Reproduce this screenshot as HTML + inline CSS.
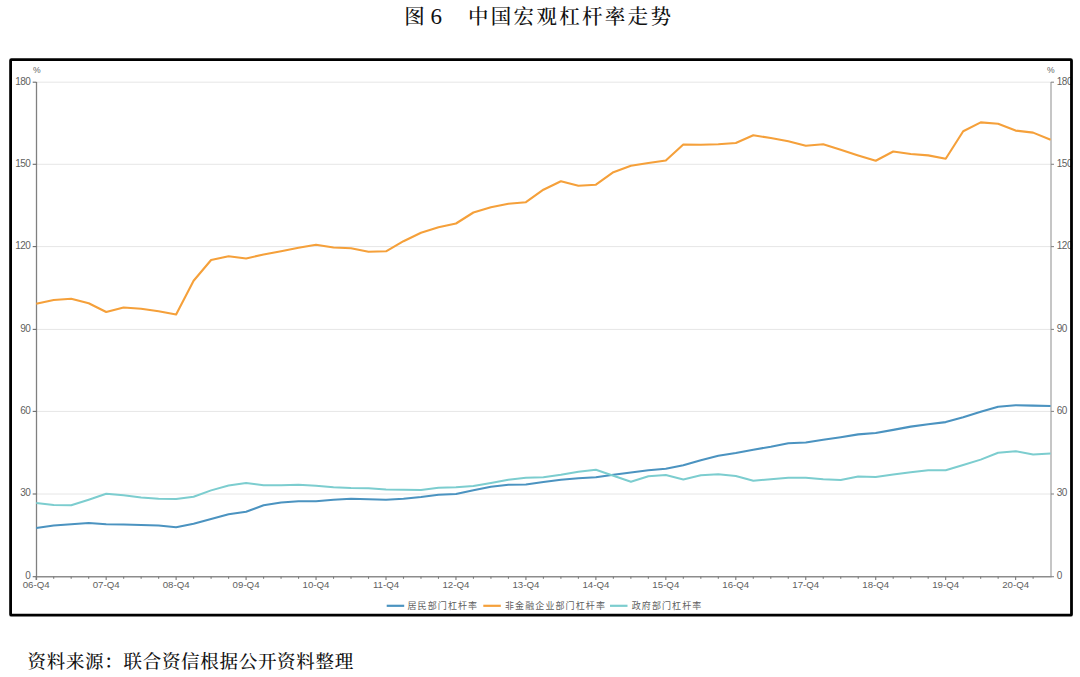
<!DOCTYPE html>
<html><head><meta charset="utf-8"><title>图6 中国宏观杠杆率走势</title>
<style>
html,body{margin:0;padding:0;background:#fff;}
body{width:1080px;height:677px;overflow:hidden;position:relative;}
svg{position:absolute;left:0;top:0;display:block;}
.ax{font-family:"Liberation Sans","Noto Sans CJK SC",sans-serif;font-size:10px;fill:#5f5f5f;}
.lg{font-family:"Liberation Sans","Noto Sans CJK SC",sans-serif;font-size:9px;fill:#5f5f5f;letter-spacing:1.1px;}
.ttl{font-family:"Liberation Serif","Noto Serif CJK SC",serif;font-size:20.5px;fill:#111;font-weight:500;}
.src{font-family:"Liberation Serif","Noto Serif CJK SC",serif;font-size:18.5px;fill:#111;font-weight:500;}
</style></head><body>
<svg width="1080" height="677" viewBox="0 0 1080 677">
<rect x="0" y="0" width="1080" height="677" fill="#fff"/>
<text class="ttl" x="404.2" y="24">图</text><text class="ttl" x="430.6" y="24" style="font-size:23px">6</text>
<text class="ttl" x="468.0" y="24" letter-spacing="2.3">中国宏观杠杆率走势</text>
<line x1="37" y1="82.20" x2="1051" y2="82.20" stroke="#e6e6e6" stroke-width="1"/><line x1="37" y1="164.30" x2="1051" y2="164.30" stroke="#e6e6e6" stroke-width="1"/><line x1="37" y1="246.60" x2="1051" y2="246.60" stroke="#e6e6e6" stroke-width="1"/><line x1="37" y1="329.40" x2="1051" y2="329.40" stroke="#e6e6e6" stroke-width="1"/><line x1="37" y1="411.40" x2="1051" y2="411.40" stroke="#e6e6e6" stroke-width="1"/><line x1="37" y1="494.00" x2="1051" y2="494.00" stroke="#e6e6e6" stroke-width="1"/>
<line x1="36.5" y1="82" x2="36.5" y2="580" stroke="#808080" stroke-width="1.3"/>
<line x1="1051" y1="82" x2="1051" y2="577" stroke="#a0a0a0" stroke-width="1.2"/>
<line x1="36" y1="576.7" x2="1051.5" y2="576.7" stroke="#8c8c8c" stroke-width="1.6"/>
<line x1="36.20" y1="576.7" x2="36.20" y2="580" stroke="#7a7a7a" stroke-width="1.1"/><line x1="53.69" y1="576.7" x2="53.69" y2="578.8" stroke="#7a7a7a" stroke-width="1.1"/><line x1="71.18" y1="576.7" x2="71.18" y2="578.8" stroke="#7a7a7a" stroke-width="1.1"/><line x1="88.67" y1="576.7" x2="88.67" y2="578.8" stroke="#7a7a7a" stroke-width="1.1"/><line x1="106.16" y1="576.7" x2="106.16" y2="580" stroke="#7a7a7a" stroke-width="1.1"/><line x1="123.65" y1="576.7" x2="123.65" y2="578.8" stroke="#7a7a7a" stroke-width="1.1"/><line x1="141.14" y1="576.7" x2="141.14" y2="578.8" stroke="#7a7a7a" stroke-width="1.1"/><line x1="158.63" y1="576.7" x2="158.63" y2="578.8" stroke="#7a7a7a" stroke-width="1.1"/><line x1="176.12" y1="576.7" x2="176.12" y2="580" stroke="#7a7a7a" stroke-width="1.1"/><line x1="193.61" y1="576.7" x2="193.61" y2="578.8" stroke="#7a7a7a" stroke-width="1.1"/><line x1="211.10" y1="576.7" x2="211.10" y2="578.8" stroke="#7a7a7a" stroke-width="1.1"/><line x1="228.59" y1="576.7" x2="228.59" y2="578.8" stroke="#7a7a7a" stroke-width="1.1"/><line x1="246.08" y1="576.7" x2="246.08" y2="580" stroke="#7a7a7a" stroke-width="1.1"/><line x1="263.57" y1="576.7" x2="263.57" y2="578.8" stroke="#7a7a7a" stroke-width="1.1"/><line x1="281.06" y1="576.7" x2="281.06" y2="578.8" stroke="#7a7a7a" stroke-width="1.1"/><line x1="298.55" y1="576.7" x2="298.55" y2="578.8" stroke="#7a7a7a" stroke-width="1.1"/><line x1="316.04" y1="576.7" x2="316.04" y2="580" stroke="#7a7a7a" stroke-width="1.1"/><line x1="333.53" y1="576.7" x2="333.53" y2="578.8" stroke="#7a7a7a" stroke-width="1.1"/><line x1="351.02" y1="576.7" x2="351.02" y2="578.8" stroke="#7a7a7a" stroke-width="1.1"/><line x1="368.51" y1="576.7" x2="368.51" y2="578.8" stroke="#7a7a7a" stroke-width="1.1"/><line x1="386.00" y1="576.7" x2="386.00" y2="580" stroke="#7a7a7a" stroke-width="1.1"/><line x1="403.49" y1="576.7" x2="403.49" y2="578.8" stroke="#7a7a7a" stroke-width="1.1"/><line x1="420.98" y1="576.7" x2="420.98" y2="578.8" stroke="#7a7a7a" stroke-width="1.1"/><line x1="438.47" y1="576.7" x2="438.47" y2="578.8" stroke="#7a7a7a" stroke-width="1.1"/><line x1="455.96" y1="576.7" x2="455.96" y2="580" stroke="#7a7a7a" stroke-width="1.1"/><line x1="473.45" y1="576.7" x2="473.45" y2="578.8" stroke="#7a7a7a" stroke-width="1.1"/><line x1="490.94" y1="576.7" x2="490.94" y2="578.8" stroke="#7a7a7a" stroke-width="1.1"/><line x1="508.43" y1="576.7" x2="508.43" y2="578.8" stroke="#7a7a7a" stroke-width="1.1"/><line x1="525.92" y1="576.7" x2="525.92" y2="580" stroke="#7a7a7a" stroke-width="1.1"/><line x1="543.41" y1="576.7" x2="543.41" y2="578.8" stroke="#7a7a7a" stroke-width="1.1"/><line x1="560.90" y1="576.7" x2="560.90" y2="578.8" stroke="#7a7a7a" stroke-width="1.1"/><line x1="578.39" y1="576.7" x2="578.39" y2="578.8" stroke="#7a7a7a" stroke-width="1.1"/><line x1="595.88" y1="576.7" x2="595.88" y2="580" stroke="#7a7a7a" stroke-width="1.1"/><line x1="613.37" y1="576.7" x2="613.37" y2="578.8" stroke="#7a7a7a" stroke-width="1.1"/><line x1="630.86" y1="576.7" x2="630.86" y2="578.8" stroke="#7a7a7a" stroke-width="1.1"/><line x1="648.35" y1="576.7" x2="648.35" y2="578.8" stroke="#7a7a7a" stroke-width="1.1"/><line x1="665.84" y1="576.7" x2="665.84" y2="580" stroke="#7a7a7a" stroke-width="1.1"/><line x1="683.33" y1="576.7" x2="683.33" y2="578.8" stroke="#7a7a7a" stroke-width="1.1"/><line x1="700.82" y1="576.7" x2="700.82" y2="578.8" stroke="#7a7a7a" stroke-width="1.1"/><line x1="718.31" y1="576.7" x2="718.31" y2="578.8" stroke="#7a7a7a" stroke-width="1.1"/><line x1="735.80" y1="576.7" x2="735.80" y2="580" stroke="#7a7a7a" stroke-width="1.1"/><line x1="753.29" y1="576.7" x2="753.29" y2="578.8" stroke="#7a7a7a" stroke-width="1.1"/><line x1="770.78" y1="576.7" x2="770.78" y2="578.8" stroke="#7a7a7a" stroke-width="1.1"/><line x1="788.27" y1="576.7" x2="788.27" y2="578.8" stroke="#7a7a7a" stroke-width="1.1"/><line x1="805.76" y1="576.7" x2="805.76" y2="580" stroke="#7a7a7a" stroke-width="1.1"/><line x1="823.25" y1="576.7" x2="823.25" y2="578.8" stroke="#7a7a7a" stroke-width="1.1"/><line x1="840.74" y1="576.7" x2="840.74" y2="578.8" stroke="#7a7a7a" stroke-width="1.1"/><line x1="858.23" y1="576.7" x2="858.23" y2="578.8" stroke="#7a7a7a" stroke-width="1.1"/><line x1="875.72" y1="576.7" x2="875.72" y2="580" stroke="#7a7a7a" stroke-width="1.1"/><line x1="893.21" y1="576.7" x2="893.21" y2="578.8" stroke="#7a7a7a" stroke-width="1.1"/><line x1="910.70" y1="576.7" x2="910.70" y2="578.8" stroke="#7a7a7a" stroke-width="1.1"/><line x1="928.19" y1="576.7" x2="928.19" y2="578.8" stroke="#7a7a7a" stroke-width="1.1"/><line x1="945.68" y1="576.7" x2="945.68" y2="580" stroke="#7a7a7a" stroke-width="1.1"/><line x1="963.17" y1="576.7" x2="963.17" y2="578.8" stroke="#7a7a7a" stroke-width="1.1"/><line x1="980.66" y1="576.7" x2="980.66" y2="578.8" stroke="#7a7a7a" stroke-width="1.1"/><line x1="998.15" y1="576.7" x2="998.15" y2="578.8" stroke="#7a7a7a" stroke-width="1.1"/><line x1="1015.64" y1="576.7" x2="1015.64" y2="580" stroke="#7a7a7a" stroke-width="1.1"/><line x1="1033.13" y1="576.7" x2="1033.13" y2="578.8" stroke="#7a7a7a" stroke-width="1.1"/>
<g class="ax">
<text x="33" y="72.8" style="font-size:8.6px">%</text>
<text x="1047" y="72.8" style="font-size:8.6px">%</text>
<text x="30.4" y="84.50" text-anchor="end" letter-spacing="-0.5">180</text><text x="1056.8" y="84.50" letter-spacing="-0.5">180</text><line x1="32.7" y1="82.20" x2="36.5" y2="82.20" stroke="#6a6a6a" stroke-width="1.1"/><line x1="1051" y1="82.20" x2="1054" y2="82.20" stroke="#8a8a8a" stroke-width="1.1"/><text x="30.4" y="166.60" text-anchor="end" letter-spacing="-0.5">150</text><text x="1056.8" y="166.60" letter-spacing="-0.5">150</text><line x1="32.7" y1="164.30" x2="36.5" y2="164.30" stroke="#6a6a6a" stroke-width="1.1"/><line x1="1051" y1="164.30" x2="1054" y2="164.30" stroke="#8a8a8a" stroke-width="1.1"/><text x="30.4" y="248.90" text-anchor="end" letter-spacing="-0.5">120</text><text x="1056.8" y="248.90" letter-spacing="-0.5">120</text><line x1="32.7" y1="246.60" x2="36.5" y2="246.60" stroke="#6a6a6a" stroke-width="1.1"/><line x1="1051" y1="246.60" x2="1054" y2="246.60" stroke="#8a8a8a" stroke-width="1.1"/><text x="30.4" y="331.70" text-anchor="end" letter-spacing="-0.5">90</text><text x="1056.8" y="331.70" letter-spacing="-0.5">90</text><line x1="32.7" y1="329.40" x2="36.5" y2="329.40" stroke="#6a6a6a" stroke-width="1.1"/><line x1="1051" y1="329.40" x2="1054" y2="329.40" stroke="#8a8a8a" stroke-width="1.1"/><text x="30.4" y="413.70" text-anchor="end" letter-spacing="-0.5">60</text><text x="1056.8" y="413.70" letter-spacing="-0.5">60</text><line x1="32.7" y1="411.40" x2="36.5" y2="411.40" stroke="#6a6a6a" stroke-width="1.1"/><line x1="1051" y1="411.40" x2="1054" y2="411.40" stroke="#8a8a8a" stroke-width="1.1"/><text x="30.4" y="496.30" text-anchor="end" letter-spacing="-0.5">30</text><text x="1056.8" y="496.30" letter-spacing="-0.5">30</text><line x1="32.7" y1="494.00" x2="36.5" y2="494.00" stroke="#6a6a6a" stroke-width="1.1"/><line x1="1051" y1="494.00" x2="1054" y2="494.00" stroke="#8a8a8a" stroke-width="1.1"/><text x="30.4" y="579.00" text-anchor="end" letter-spacing="-0.5">0</text><text x="1056.8" y="579.00" letter-spacing="-0.5">0</text><line x1="32.7" y1="576.70" x2="36.5" y2="576.70" stroke="#6a6a6a" stroke-width="1.1"/><line x1="1051" y1="576.70" x2="1054" y2="576.70" stroke="#8a8a8a" stroke-width="1.1"/>
<text x="36.20" y="588.2" text-anchor="middle" style="font-size:9.7px">06-Q4</text><text x="106.16" y="588.2" text-anchor="middle" style="font-size:9.7px">07-Q4</text><text x="176.12" y="588.2" text-anchor="middle" style="font-size:9.7px">08-Q4</text><text x="246.08" y="588.2" text-anchor="middle" style="font-size:9.7px">09-Q4</text><text x="316.04" y="588.2" text-anchor="middle" style="font-size:9.7px">10-Q4</text><text x="386.00" y="588.2" text-anchor="middle" style="font-size:9.7px">11-Q4</text><text x="455.96" y="588.2" text-anchor="middle" style="font-size:9.7px">12-Q4</text><text x="525.92" y="588.2" text-anchor="middle" style="font-size:9.7px">13-Q4</text><text x="595.88" y="588.2" text-anchor="middle" style="font-size:9.7px">14-Q4</text><text x="665.84" y="588.2" text-anchor="middle" style="font-size:9.7px">15-Q4</text><text x="735.80" y="588.2" text-anchor="middle" style="font-size:9.7px">16-Q4</text><text x="805.76" y="588.2" text-anchor="middle" style="font-size:9.7px">17-Q4</text><text x="875.72" y="588.2" text-anchor="middle" style="font-size:9.7px">18-Q4</text><text x="945.68" y="588.2" text-anchor="middle" style="font-size:9.7px">19-Q4</text><text x="1015.64" y="588.2" text-anchor="middle" style="font-size:9.7px">20-Q4</text>
</g>
<polyline points="36.2,528.0 53.7,525.5 71.2,524.2 88.7,523.0 106.2,524.3 123.6,524.5 141.1,525.0 158.6,525.5 176.1,527.2 193.6,523.7 211.1,519.0 228.6,514.2 246.1,511.7 263.6,505.3 281.1,502.5 298.5,501.2 316.0,501.2 333.5,499.7 351.0,498.8 368.5,499.3 386.0,499.8 403.5,498.7 421.0,497.0 438.5,494.7 456.0,494.0 473.4,490.3 490.9,486.7 508.4,484.7 525.9,484.5 543.4,482.0 560.9,479.7 578.4,478.3 595.9,477.3 613.4,474.7 630.9,472.5 648.4,470.3 665.8,468.7 683.3,465.3 700.8,460.2 718.3,455.8 735.8,453.0 753.3,449.7 770.8,446.7 788.3,443.3 805.8,442.5 823.2,439.7 840.7,437.2 858.2,434.4 875.7,433.0 893.2,429.9 910.7,426.6 928.2,424.2 945.7,422.1 963.2,417.2 980.7,411.8 998.1,406.7 1015.6,405.2 1033.1,405.6 1050.6,406.0" fill="none" stroke="#4b93c0" stroke-width="2.1" stroke-linejoin="round"/>
<polyline points="36.2,303.8 53.7,300.0 71.2,298.8 88.7,303.3 106.2,312.0 123.6,307.5 141.1,308.7 158.6,311.3 176.1,314.5 193.6,280.8 211.1,260.0 228.6,256.3 246.1,258.5 263.6,254.5 281.1,251.3 298.5,247.8 316.0,244.7 333.5,247.5 351.0,248.2 368.5,251.7 386.0,251.3 403.5,241.2 421.0,232.8 438.5,227.3 456.0,223.5 473.4,212.5 490.9,207.2 508.4,203.8 525.9,202.2 543.4,189.7 560.9,181.2 578.4,185.7 595.9,184.7 613.4,172.2 630.9,165.7 648.4,163.0 665.8,160.5 683.3,144.5 700.8,144.7 718.3,144.3 735.8,143.0 753.3,135.3 770.8,138.0 788.3,141.3 805.8,145.8 823.2,144.3 840.7,149.8 858.2,155.4 875.7,160.7 893.2,151.5 910.7,154.0 928.2,155.4 945.7,158.7 963.2,131.2 980.7,122.4 998.1,123.8 1015.6,130.6 1033.1,132.6 1050.6,139.7" fill="none" stroke="#f5a03a" stroke-width="2.1" stroke-linejoin="round"/>
<polyline points="36.2,503.0 53.7,505.0 71.2,505.3 88.7,499.7 106.2,493.7 123.6,495.3 141.1,497.5 158.6,498.8 176.1,499.0 193.6,496.7 211.1,490.4 228.6,485.5 246.1,483.0 263.6,485.3 281.1,485.2 298.5,484.7 316.0,485.8 333.5,487.3 351.0,488.0 368.5,488.2 386.0,489.5 403.5,489.7 421.0,490.0 438.5,487.7 456.0,487.3 473.4,486.0 490.9,483.0 508.4,479.7 525.9,477.8 543.4,477.2 560.9,474.7 578.4,471.7 595.9,469.7 613.4,475.8 630.9,481.7 648.4,476.3 665.8,475.0 683.3,479.5 700.8,475.2 718.3,474.2 735.8,476.0 753.3,480.7 770.8,479.3 788.3,477.7 805.8,477.7 823.2,479.3 840.7,480.0 858.2,476.4 875.7,476.9 893.2,474.6 910.7,472.2 928.2,470.3 945.7,470.3 963.2,465.0 980.7,459.6 998.1,452.8 1015.6,451.2 1033.1,454.4 1050.6,453.4" fill="none" stroke="#7ccdcf" stroke-width="2" stroke-linejoin="round"/>
<g class="lg">
<line x1="386.7" y1="605.8" x2="404.2" y2="605.8" stroke="#4b93c0" stroke-width="2.2"/>
<text x="407.5" y="609.1">居民部门杠杆率</text>
<line x1="483.3" y1="605.8" x2="500.8" y2="605.8" stroke="#f5a03a" stroke-width="2.2"/>
<text x="505" y="609.1">非金融企业部门杠杆率</text>
<line x1="610" y1="605.8" x2="627.5" y2="605.8" stroke="#7ccdcf" stroke-width="2.2"/>
<text x="631.7" y="609.1">政府部门杠杆率</text>
</g>
<rect x="10.6" y="59.6" width="1060.9" height="555.6" fill="none" stroke="#000" stroke-width="2.8" rx="0.8"/>
<text class="src" x="27.5" y="668" letter-spacing="0.7">资料来源：联合资信根据公开资料整理</text>
</svg>
</body></html>
